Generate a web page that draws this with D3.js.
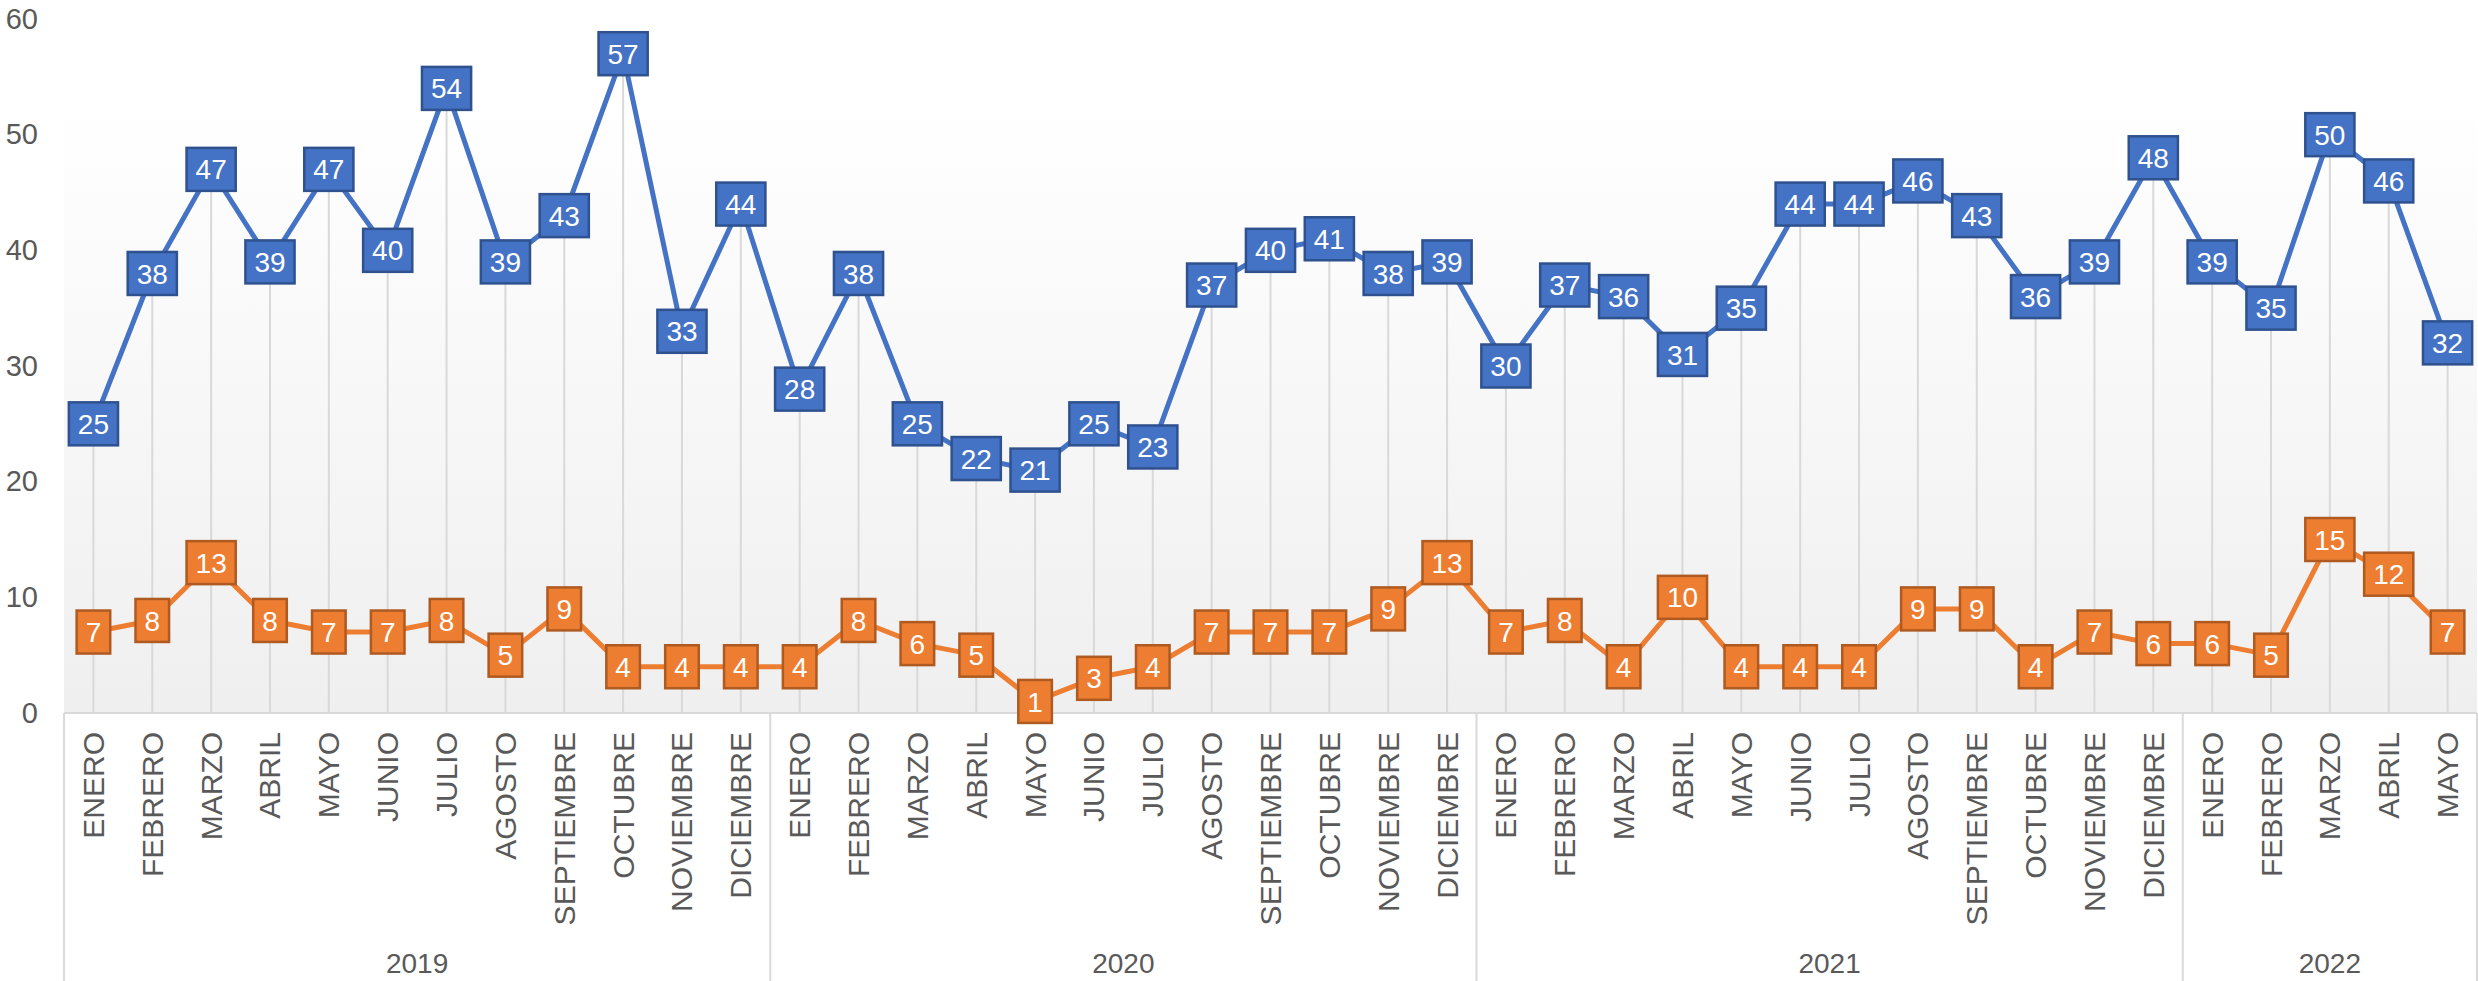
<!DOCTYPE html>
<html>
<head>
    <meta charset="utf-8">
    <script src="https://cdn.jsdelivr.net/npm/d3@7"></script>
    <style>
        body {
            margin: 0;
            background: #fff;
            font-family: "Liberation Sans", Arial, Helvetica, sans-serif;
        }
        .tick text, .month, .year {
            fill: #595959;
        }
        .drop {
            stroke: #d9d9d9;
            stroke-width: 2px;
        }
        .frame {
            stroke: #d9d9d9;
            stroke-width: 2px;
        }
        .lbl text {
            fill: #fff;
            font-size: 28px;
        }
    </style>
</head>
<body>
<script>
    var years = ["2019", "2020", "2021", "2022"];
    var monthsPerYear = [12, 12, 12, 5];
    var monthNames = ["ENERO", "FEBRERO", "MARZO", "ABRIL", "MAYO", "JUNIO", "JULIO",
        "AGOSTO", "SEPTIEMBRE", "OCTUBRE", "NOVIEMBRE", "DICIEMBRE"];

    var blueValues = [25, 38, 47, 39, 47, 40, 54, 39, 43, 57, 33, 44,
        28, 38, 25, 22, 21, 25, 23, 37, 40, 41, 38, 39,
        30, 37, 36, 31, 35, 44, 44, 46, 43, 36, 39, 48,
        39, 35, 50, 46, 32];
    var orangeValues = [7, 8, 13, 8, 7, 7, 8, 5, 9, 4, 4, 4,
        4, 8, 6, 5, 1, 3, 4, 7, 7, 7, 9, 13,
        7, 8, 4, 10, 4, 4, 4, 9, 9, 4, 7, 6,
        6, 5, 15, 12, 7];
    var yTicks = [0, 10, 20, 30, 40, 50, 60];

    var W = 2478, H = 981;
    var plotLeft = 64, plotRight = 2477, plotTop = 19, plotBottom = 713;

    // one category per month, grouped by year
    var cats = [];
    years.forEach(function (yr, yi) {
        for (var m = 0; m < monthsPerYear[yi]; m++) {
            cats.push({year: yr, month: monthNames[m]});
        }
    });

    var x = d3.scaleBand()
        .domain(d3.range(cats.length))
        .range([plotLeft, plotRight])
        .padding(0);
    var cx = function (i) { return x(i) + x.bandwidth() / 2; };

    var y = d3.scaleLinear()
        .domain([0, 60])
        .range([plotBottom, plotTop]);

    var svg = d3.select("body").append("svg")
        .attr("width", W)
        .attr("height", H);

    var grad = svg.append("defs").append("linearGradient")
        .attr("id", "bg")
        .attr("x1", 0).attr("y1", 0).attr("x2", 0).attr("y2", 1);
    grad.append("stop").attr("offset", "0").attr("stop-color", "#ffffff");
    grad.append("stop").attr("offset", "0.12").attr("stop-color", "#ffffff");
    grad.append("stop").attr("offset", "1").attr("stop-color", "#efefef");

    svg.append("rect")
        .attr("x", plotLeft)
        .attr("y", y(60))
        .attr("width", plotRight - plotLeft)
        .attr("height", y(0) - y(60))
        .attr("fill", "url(#bg)");

    // y axis labels
    svg.append("g")
        .attr("transform", "translate(" + plotLeft + ",0)")
        .call(d3.axisLeft(y).tickValues(yTicks).tickSize(0).tickPadding(26))
        .call(function (g) { g.select(".domain").remove(); })
        .selectAll("text")
        .style("font-size", "29px")
        .style("font-family", "'Liberation Sans', Arial, sans-serif");

    // drop lines
    svg.append("g").selectAll("line")
        .data(cats)
        .enter().append("line")
        .attr("class", "drop")
        .attr("x1", function (d, i) { return cx(i); })
        .attr("x2", function (d, i) { return cx(i); })
        .attr("y1", y(0))
        .attr("y2", function (d, i) { return y(Math.max(blueValues[i], orangeValues[i])); });

    // category axis frame
    svg.append("line")
        .attr("class", "frame")
        .attr("x1", plotLeft).attr("x2", plotRight)
        .attr("y1", y(0)).attr("y2", y(0));

    var bounds = [0];
    monthsPerYear.forEach(function (n, i) { bounds.push(bounds[i] + n); });
    var edge = function (b) { return b < cats.length ? x(b) : plotRight; };

    svg.append("g").selectAll("line")
        .data(bounds)
        .enter().append("line")
        .attr("class", "frame")
        .attr("x1", edge)
        .attr("x2", edge)
        .attr("y1", y(0))
        .attr("y2", H);

    svg.append("g").selectAll("text")
        .data(cats)
        .enter().append("text")
        .attr("class", "month")
        .attr("transform", function (d, i) { return "translate(" + cx(i) + ",732) rotate(-90)"; })
        .attr("text-anchor", "end")
        .attr("dy", "0.35em")
        .style("font-size", "30px")
        .text(function (d) { return d.month; });

    svg.append("g").selectAll("text")
        .data(years)
        .enter().append("text")
        .attr("class", "year")
        .attr("x", function (d, i) { return (edge(bounds[i]) + edge(bounds[i + 1])) / 2; })
        .attr("y", 973)
        .attr("text-anchor", "middle")
        .style("font-size", "28px")
        .text(function (d) { return d; });

    var line = d3.line()
        .x(function (d, i) { return cx(i); })
        .y(function (d) { return y(d); });

    function drawSeries(values, color, dark) {
        svg.append("path")
            .datum(values)
            .attr("d", line)
            .attr("fill", "none")
            .attr("stroke", color)
            .attr("stroke-width", 5)
            .attr("stroke-linejoin", "round");

        var g = svg.append("g").attr("class", "lbl")
            .selectAll("g")
            .data(values)
            .enter().append("g")
            .attr("transform", function (d, i) { return "translate(" + cx(i) + "," + y(d) + ")"; });

        var rects = g.append("rect")
            .attr("fill", color)
            .attr("stroke", dark)
            .attr("stroke-width", 2.5);

        var texts = g.append("text")
            .attr("text-anchor", "middle")
            .attr("dy", "0.36em")
            .text(function (d) { return d; });

        texts.each(function (d, i) {
            var w = this.getComputedTextLength() + 18;
            d3.select(rects.nodes()[i])
                .attr("x", -w / 2)
                .attr("y", -21.5)
                .attr("width", w)
                .attr("height", 43);
        });
    }

    drawSeries(blueValues, "#4472c4", "#2f528f");
    drawSeries(orangeValues, "#ed7d31", "#ae5a21");
</script>
</body>
</html>
